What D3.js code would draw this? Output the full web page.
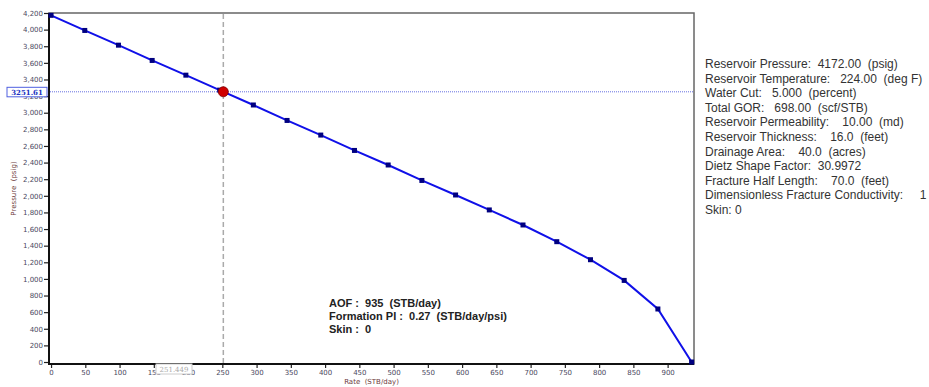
<!DOCTYPE html>
<html>
<head>
<meta charset="utf-8">
<script src="https://cdn.jsdelivr.net/npm/d3@7"></script>
<style>
  body { margin: 0; background: #fff; }
  svg { display: block; }
  text { white-space: pre; }
</style>
</head>
<body>
<script>
// IPR curve
const rates = [0, 49.2, 98.4, 147.6, 196.8, 246.1, 295.3, 344.5, 393.7, 442.9,
  492.1, 541.3, 590.5, 639.7, 688.9, 738.2, 787.4, 836.6, 885.8, 935];
const pressures = [4172, 3990, 3813, 3629, 3452, 3272, 3093, 2907, 2731, 2546,
  2371, 2185, 2010, 1830, 1649, 1448, 1231, 982, 638, 0];

const cursor = { rate: 251.449, pressure: 3251.61 };

const xTicks = [0, 50, 100, 150, 200, 250, 300, 350, 400, 450, 500, 550, 600,
  650, 700, 750, 800, 850, 900];
const yTicks = [0, 200, 400, 600, 800, 1000, 1200, 1400, 1600, 1800, 2000, 2200,
  2400, 2600, 2800, 3000, 3200, 3400, 3600, 3800, 4000, 4200];

const summaryLines = [
  "AOF :  935  (STB/day)",
  "Formation PI :  0.27  (STB/day/psi)",
  "Skin :  0",
];

const inputLines = [
  "Reservoir Pressure:  4172.00  (psig)",
  "Reservoir Temperature:   224.00  (deg F)",
  "Water Cut:   5.000  (percent)",
  "Total GOR:   698.00  (scf/STB)",
  "Reservoir Permeability:    10.00  (md)",
  "Reservoir Thickness:    16.0  (feet)",
  "Drainage Area:    40.0  (acres)",
  "Dietz Shape Factor:  30.9972",
  "Fracture Half Length:    70.0  (feet)",
  "Dimensionless Fracture Conductivity:     1",
  "Skin: 0",
];

const W = 929, H = 387;
const pL = 49, pR = 694, pT = 13, pB = 364;

const x = d3.scaleLinear().domain([-3, 938.5]).range([pL, pR]);
const y = d3.scaleLinear().domain([-24, 4200]).range([pB, pT]);

const svg = d3.select("body").append("svg").attr("width", W).attr("height", H);

// frame
svg.append("rect")
  .attr("x", pL).attr("y", pT)
  .attr("width", pR - pL).attr("height", pB - pT)
  .attr("fill", "#fff").attr("stroke", "#666").attr("stroke-width", 1.5);

const fmt = d3.format(",");

const yAxis = svg.append("g")
  .attr("transform", `translate(${pL},0)`)
  .call(d3.axisLeft(y).tickValues(yTicks).tickFormat(fmt).tickSize(5).tickPadding(1));
const xAxis = svg.append("g")
  .attr("transform", `translate(0,${pB})`)
  .call(d3.axisBottom(x).tickValues(xTicks).tickSize(4).tickPadding(2));

[yAxis, xAxis].forEach((g) => {
  g.select(".domain").remove();
  g.selectAll("line").attr("stroke", "#222").attr("stroke-width", 1.2);
  g.selectAll("text")
    .attr("fill", "#4a4860")
    .style("font-family", "DejaVu Sans, Verdana, sans-serif")
    .style("font-size", "7px");
});

// heavier left/bottom axis lines
svg.append("line").attr("x1", pL).attr("x2", pL).attr("y1", pT).attr("y2", pB + 1)
  .attr("stroke", "#111").attr("stroke-width", 2);
svg.append("line").attr("x1", pL - 1).attr("x2", pR).attr("y1", pB).attr("y2", pB)
  .attr("stroke", "#111").attr("stroke-width", 2);

// axis titles
svg.append("text")
  .attr("x", (pL + pR) / 2).attr("y", 384)
  .attr("text-anchor", "middle")
  .attr("fill", "#6d3b3b")
  .style("font-family", "DejaVu Sans, Verdana, sans-serif")
  .style("font-size", "7px")
  .text("Rate  (STB/day)");
svg.append("text")
  .attr("transform", `translate(16,${(pT + pB) / 2}) rotate(-90)`)
  .attr("text-anchor", "middle")
  .attr("fill", "#6d3b3b")
  .style("font-family", "DejaVu Sans, Verdana, sans-serif")
  .style("font-size", "7px")
  .text("Pressure  (psig)");

// crosshair
svg.append("line")
  .attr("x1", x(cursor.rate)).attr("x2", x(cursor.rate))
  .attr("y1", pT + 1).attr("y2", pB - 1)
  .attr("stroke", "#aaa").attr("stroke-width", 1.5).attr("stroke-dasharray", "5,3");
svg.append("line")
  .attr("x1", pL + 1).attr("x2", pR - 1)
  .attr("y1", y(cursor.pressure)).attr("y2", y(cursor.pressure))
  .attr("stroke", "#6670e0").attr("stroke-width", 1).attr("stroke-dasharray", "1,1");

// curve
const pts = rates.map((r, i) => [r, pressures[i]]);
svg.append("path")
  .datum(pts)
  .attr("fill", "none")
  .attr("stroke", "#1010e8")
  .attr("stroke-width", 2)
  .attr("d", d3.line().x((d) => x(d[0])).y((d) => y(d[1])));

svg.append("g")
  .selectAll("rect")
  .data(pts)
  .enter()
  .append("rect")
  .attr("x", (d) => x(d[0]) - 2.5)
  .attr("y", (d) => y(d[1]) - 2.5)
  .attr("width", 5)
  .attr("height", 5)
  .attr("fill", "#000080");

svg.append("circle")
  .attr("cx", x(cursor.rate)).attr("cy", y(cursor.pressure))
  .attr("r", 5)
  .attr("fill", "#d00000").attr("stroke", "#800000").attr("stroke-width", 0.8);

// cursor value labels
const yLab = svg.append("g").attr("transform", `translate(27,${y(cursor.pressure)})`);
yLab.append("rect")
  .attr("x", -20).attr("y", -4.5).attr("width", 40).attr("height", 9.5)
  .attr("fill", "#fff").attr("stroke", "#5060e0").attr("stroke-width", 1);
yLab.append("text")
  .attr("y", 3).attr("text-anchor", "middle")
  .attr("fill", "#2030c0")
  .style("font-family", "DejaVu Serif, serif")
  .style("font-size", "7px")
  .style("font-weight", "bold")
  .text(cursor.pressure.toFixed(2));

const xLab = svg.append("g").attr("transform", `translate(174,369)`);
xLab.append("rect")
  .attr("x", -18).attr("y", -5).attr("width", 36).attr("height", 10)
  .attr("fill", "#fff").attr("stroke", "#ccc").attr("stroke-width", 1);
xLab.append("text")
  .attr("y", 2.5).attr("text-anchor", "middle")
  .attr("fill", "#aaa")
  .style("font-family", "DejaVu Serif, serif")
  .style("font-size", "7px")
  .text(String(cursor.rate));

// summary text in the plot
svg.append("g")
  .selectAll("text")
  .data(summaryLines)
  .enter()
  .append("text")
  .attr("x", 329)
  .attr("y", (d, i) => 307 + i * 13)
  .attr("fill", "#222")
  .style("font-family", "Liberation Sans, Arial, sans-serif")
  .style("font-size", "11px")
  .style("font-weight", "bold")
  .text((d) => d);

// input data on the right
svg.append("g")
  .selectAll("text")
  .data(inputLines)
  .enter()
  .append("text")
  .attr("x", 705)
  .attr("y", (d, i) => 68 + i * 14.6)
  .attr("fill", "#333")
  .style("font-family", "Liberation Sans, Arial, sans-serif")
  .style("font-size", "12px")
  .text((d) => d);
</script>
</body>
</html>
